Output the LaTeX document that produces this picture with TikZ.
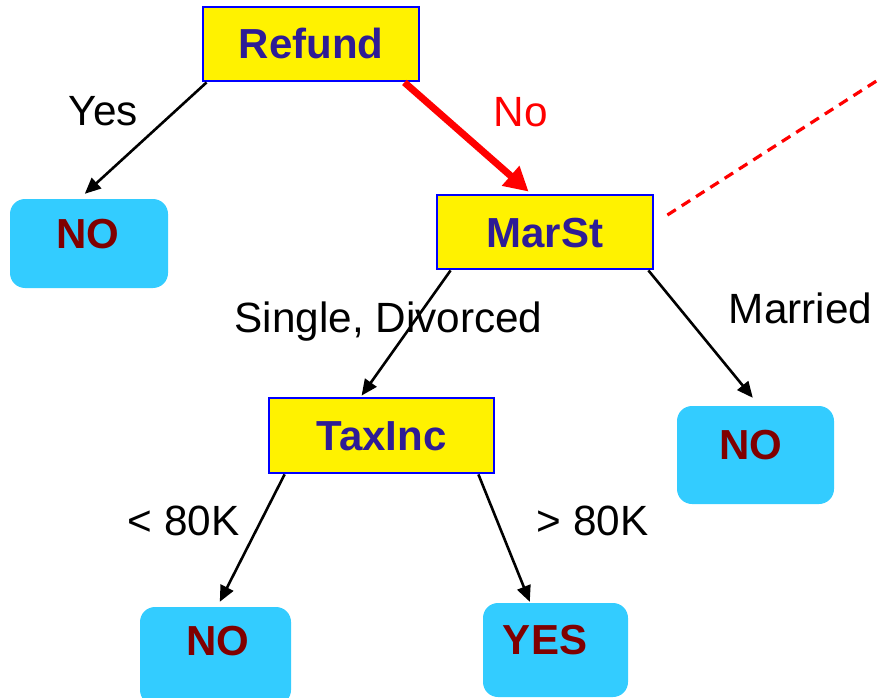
\documentclass[tikz,border=0pt]{standalone}
\usepackage{fontspec}
\setmainfont{Liberation Sans}
\usetikzlibrary{arrows.meta,calc}
\definecolor{nodeblue}{RGB}{46,28,150}
\definecolor{leafcyan}{RGB}{51,204,255}
\definecolor{leafred}{RGB}{128,0,0}
\tikzset{
  testbox/.style={draw=blue, line width=2.8pt, fill=yellow, minimum width=#1, minimum height=74pt,
     inner sep=0pt, text=nodeblue, font=\fontsize{42}{50}\selectfont\bfseries,
     text height=30pt, text depth=0pt},
  leafbox/.style={fill=leafcyan, rounded corners=15pt, inner sep=0pt},
  leaftext/.style={anchor=base, inner sep=0pt, text=leafred, font=\fontsize{42}{50}\selectfont\bfseries},
  edgelabel/.style={anchor=base, inner sep=0pt, font=\fontsize{42.3}{50}\selectfont},
  edge/.style={line width=2.6pt, -{Triangle[length=16pt,width=14pt]}},
  rededge/.style={draw=red, line width=7pt, -{Triangle[length=24pt,width=25pt]}},
}
\begin{document}
\begin{tikzpicture}[x=1pt,y=-1pt]
\useasboundingbox (0,0) rectangle (878,698);
% decision nodes
\node[testbox=216pt] (refund) at (311,44) {Refund};
\node[testbox=216pt] (marst) at (545,232) {MarSt};
\node[testbox=225pt, minimum height=75pt] (taxinc) at (381.5,435.5) {TaxInc};
% leaves
\node[leafbox, minimum width=158pt, minimum height=89pt] (noL) at (89,243.5) {};
\node[leaftext] (noLt) at (88,248) {NO};
\node[leafbox, minimum width=157pt, minimum height=98pt] (noR) at (755.5,455) {};
\node[leaftext] (noRt) at (751,459) {NO};
\node[leafbox, minimum width=151pt, minimum height=98pt] (noB) at (215.5,656) {};
\node[leaftext] (noBt) at (218,655) {NO};
\node[leafbox, minimum width=145pt, minimum height=94pt] (yes) at (555.5,650) {};
\node[leaftext] (yest) at (545,654) {YES};
% edges
\draw[edge] ([xshift=5pt]refund.south west) -- ([xshift=75pt,yshift=5pt]noL.north west);
\draw[rededge] ([xshift=-16pt]refund.south east) -- ([xshift=93pt,yshift=2pt]marst.north west);
\draw[edge] ([xshift=15pt]marst.south west) -- ([xshift=94pt,yshift=1pt]taxinc.north west);
\draw[edge] ([xshift=-6pt]marst.south east) -- ([xshift=76pt,yshift=8pt]noR.north west);
\draw[edge] ([xshift=17pt]taxinc.south west) -- ([xshift=80pt,yshift=5pt]noB.north west);
\draw[edge] ([xshift=-17pt]taxinc.south east) -- ([xshift=47pt,yshift=1pt]yes.north west);
\coordinate (offpage) at (878,80);
\draw[red, line width=3.2pt, dash pattern=on 10pt off 7pt] ([xshift=13pt,yshift=17pt]marst.east) -- (offpage);
% labels
\node[edgelabel] (lyes) at (103.5,126) {Yes};
\node[edgelabel, text=red] (lno) at (521,127) {No};
\node[edgelabel] (lsd) at (388.5,332) {Single, Divorced};
\node[edgelabel] (lmar) at (800.5,323) {Married};
\node[edgelabel] (llt) at (183.5,535) {< 80K};
\node[edgelabel] (lgt) at (592.5,535) {> 80K};
\end{tikzpicture}
\end{document}
